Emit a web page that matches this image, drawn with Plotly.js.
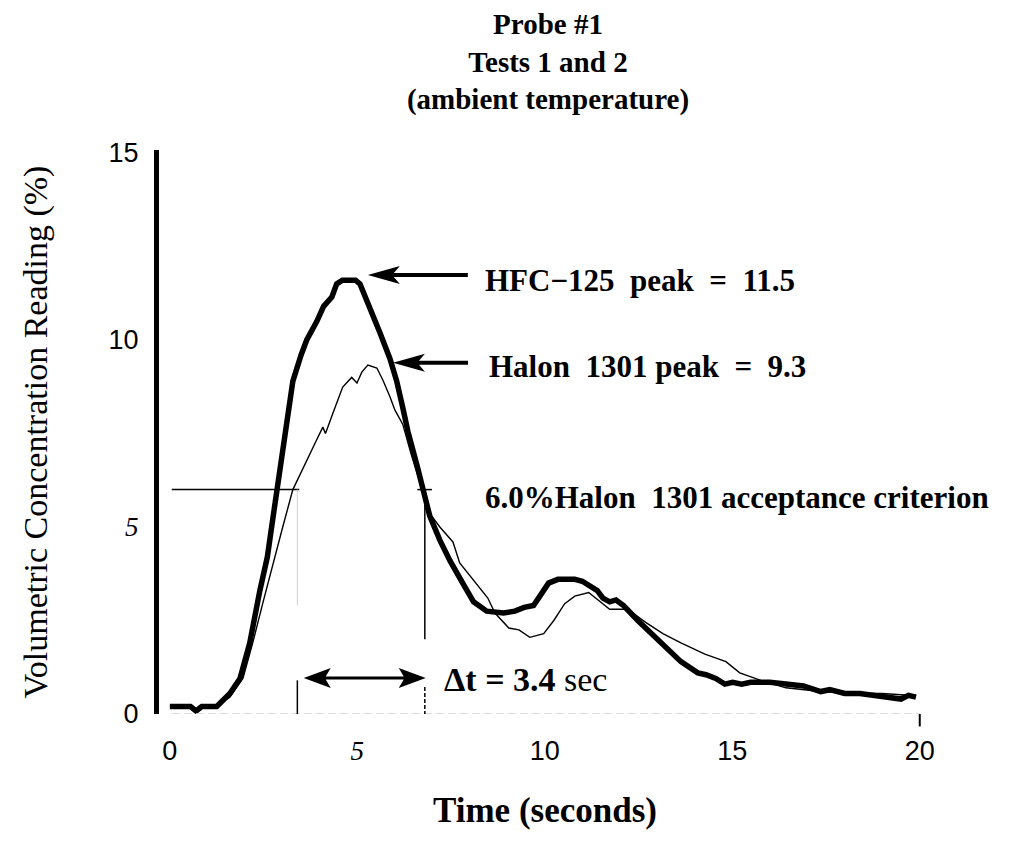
<!DOCTYPE html>
<html>
<head>
<meta charset="utf-8">
<script src="https://cdn.plot.ly/plotly-3.0.1.min.js"></script>
<style>html,body{margin:0;padding:0;background:#fff;}#chart{width:1011px;height:847px;}</style>
</head>
<body>
<div id="chart"></div>
<script>
// ---- data ----
const timeHFC = [0, 0.55, 0.7, 0.85, 1.25, 1.6, 1.87, 2.13, 2.4, 2.6, 2.75, 2.88, 3.01, 3.28, 3.5, 3.65, 3.92, 4.1, 4.32, 4.45, 4.6, 4.95, 5.07, 5.33, 5.6, 5.87, 6.05, 6.21, 6.35, 6.59, 6.75, 6.93, 7.2, 7.47, 7.81, 8.1, 8.45, 8.9, 9.2, 9.45, 9.7, 9.9, 10.1, 10.35, 10.8, 11.0, 11.17, 11.4, 11.55, 11.73, 11.9, 12.1, 12.48, 13.07, 13.63, 14.08, 14.3, 14.56, 14.8, 15.01, 15.25, 15.49, 16.0, 16.43, 16.9, 17.36, 17.6, 18.0, 18.4, 18.75, 19.1, 19.5, 19.7, 19.9];
const concHFC = [0.2, 0.2, 0.08, 0.2, 0.2, 0.55, 0.95, 1.9, 3.3, 4.2, 5.25, 6.2, 7.2, 8.9, 9.6, 10.0, 10.5, 10.9, 11.15, 11.5, 11.6, 11.6, 11.5, 10.9, 10.2, 9.5, 8.9, 8.2, 7.55, 6.65, 6.0, 5.3, 4.65, 4.1, 3.5, 3.0, 2.75, 2.7, 2.75, 2.85, 2.9, 3.2, 3.5, 3.6, 3.6, 3.55, 3.45, 3.3, 3.1, 3.0, 3.05, 2.9, 2.5, 1.95, 1.4, 1.1, 1.05, 0.95, 0.8, 0.85, 0.8, 0.85, 0.85, 0.8, 0.75, 0.6, 0.65, 0.55, 0.55, 0.5, 0.45, 0.4, 0.5, 0.45];

const timeHalon = [0, 0.5, 0.7, 0.85, 1.2, 1.6, 1.95, 2.21, 2.48, 2.75, 3.01, 3.28, 3.65, 3.9, 4.08, 4.15, 4.35, 4.61, 4.85, 4.99, 5.12, 5.28, 5.52, 5.68, 5.87, 6.0, 6.21, 6.45, 6.7, 6.88, 7.2, 7.55, 7.73, 8.0, 8.48, 8.67, 9.04, 9.31, 9.6, 9.97, 10.24, 10.53, 10.8, 11.17, 11.47, 11.73, 12.21, 12.69, 13.15, 13.63, 14.27, 14.83, 15.2, 15.76, 16.43, 17.36, 18.29, 19.0, 19.7, 19.9];
const concHalon = [0.2, 0.2, 0.1, 0.2, 0.2, 0.45, 0.96, 1.9, 2.97, 4.04, 5.0, 6.0, 6.8, 7.3, 7.67, 7.5, 8.05, 8.74, 9.0, 8.85, 9.14, 9.33, 9.25, 8.93, 8.48, 8.13, 7.75, 6.9, 6.1, 5.43, 5.0, 4.6, 4.04, 3.7, 3.1, 2.7, 2.3, 2.25, 2.05, 2.15, 2.5, 2.95, 3.15, 3.25, 3.0, 2.8, 2.8, 2.45, 2.15, 1.9, 1.6, 1.4, 1.1, 0.9, 0.7, 0.6, 0.55, 0.55, 0.5, 0.5];

const criterion = 6.0;      // % acceptance criterion
const tCrossStart = 3.4;    // s
const tCrossEnd = 6.8;      // s
const peakHFC = [5.28, 11.74];   // arrow tip (t, %)
const peakHalon = [5.95, 9.39];
const deltaArrowStart = [3.57, 0.96];
const xTickVals = [0, 5, 10, 15, 20];
const yTickVals = [0, 5, 10, 15];
const italic5 = "<span style=\"font-family:'Liberation Serif',serif;font-style:italic\">5</span>";
const xTickText = ['0', italic5, '10', '15', '20'];
const yTickText = ['0', italic5, '10', '15'];

const serif = "'Liberation Serif', 'Times New Roman', serif";
const sans = "'Liberation Sans', Arial, sans-serif";

const traces = [
  {x: timeHalon, y: concHalon, type: 'scatter', mode: 'lines', line: {color: '#000', width: 1.4}, hoverinfo: 'skip'},
  {x: timeHFC, y: concHFC, type: 'scatter', mode: 'lines', line: {color: '#000', width: 5.5}, hoverinfo: 'skip'}
];

function arrowShape(tip, path) {
  return {type: 'path', xref: 'x', yref: 'y', xsizemode: 'pixel', ysizemode: 'pixel',
          xanchor: tip[0], yanchor: tip[1], path: path, fillcolor: '#000', line: {width: 0}};
}

const shapes = [
  // faint scanned x baseline
  {type: 'line', xref: 'x', yref: 'y', x0: 0.05, x1: 20, y0: 0, y1: 0, line: {color: '#d0d0d0', width: 1.5, dash: '8px,4px'}},
  {type: 'line', xref: 'x', yref: 'y', x0: 0.05, x1: 3.45, y0: criterion, y1: criterion, line: {color: '#000', width: 1.5}},
  {type: 'line', xref: 'x', yref: 'y', x0: 6.6, x1: 6.99, y0: criterion, y1: criterion, line: {color: '#000', width: 1.5}},
  {type: 'line', xref: 'x', yref: 'y', x0: tCrossStart, x1: tCrossStart, y0: criterion, y1: 2.9, line: {color: '#cfcfcf', width: 1}},
  {type: 'line', xref: 'x', yref: 'y', x0: tCrossStart, x1: tCrossStart, y0: 0.9, y1: 0, line: {color: '#000', width: 1.5}},
  {type: 'line', xref: 'x', yref: 'y', x0: tCrossEnd, x1: tCrossEnd, y0: criterion, y1: 2.0, line: {color: '#000', width: 1.5}},
  {type: 'line', xref: 'x', yref: 'y', x0: tCrossEnd, x1: tCrossEnd, y0: 0.72, y1: 0, line: {color: '#000', width: 1.5, dash: '4px,2px'}},
  {type: 'line', xref: 'x', yref: 'paper', x0: 20, x1: 20, y0: 0, y1: -0.022, line: {color: '#000', width: 2}},
  arrowShape(peakHFC, 'M0,0 L32,9 L26,2 L100,2 L100,-2 L26,-2 L32,-9 Z'),
  arrowShape(peakHalon, 'M0,0 L32,9 L26,2 L75,2 L75,-2 L26,-2 L32,-9 Z'),
  arrowShape(deltaArrowStart, 'M0,0 L27,10 L22,1.5 L100,1.5 L95,10 L122,0 L95,-10 L100,-1.5 L22,-1.5 L27,-10 Z')
];

const annFont = {family: serif, size: 31, color: '#000'};
const annotations = [
  {x: 8.35, y: 11.6, xref: 'x', yref: 'y', xanchor: 'left', yanchor: 'middle', showarrow: false,
   text: '<b>HFC\u2212125\u00a0 peak\u00a0 =\u00a0 11.5</b>', font: annFont},
  {x: 8.45, y: 9.3, xref: 'x', yref: 'y', xanchor: 'left', yanchor: 'middle', showarrow: false,
   text: '<b>Halon\u00a0 1301 peak\u00a0 =\u00a0 9.3</b>', font: annFont},
  {x: 8.35, y: 5.8, xref: 'x', yref: 'y', xanchor: 'left', yanchor: 'middle', showarrow: false,
   text: '<b>6.0%Halon\u00a0 1301 acceptance criterion</b>', font: annFont},
  {x: 7.25, y: 0.93, xref: 'x', yref: 'y', xanchor: 'left', yanchor: 'middle', showarrow: false,
   text: '<b>\u0394t = 3.4</b> sec', font: {family: serif, size: 34, color: '#000'}}
];

const layout = {
  width: 1011, height: 847,
  margin: {l: 159, r: 80, t: 150, b: 133},
  paper_bgcolor: '#fff', plot_bgcolor: '#fff',
  showlegend: false,
  title: {
    text: '<b>Probe #1<br>Tests 1 and 2<br>(ambient temperature)</b>',
    font: {family: serif, size: 29, color: '#000'},
    x: 548 / 1011, xref: 'container', xanchor: 'center',
    y: 0.960, yref: 'container', yanchor: 'top'
  },
  xaxis: {
    range: [-0.29, 20.3], showgrid: false, zeroline: false, showline: false,
    tickmode: 'array', tickvals: xTickVals, ticktext: xTickText, ticks: '',
    ticklabelstandoff: 18,
    tickfont: {family: sans, size: 27, color: '#000'},
    title: {text: '<b>Time (seconds)</b>', font: {family: serif, size: 35, color: '#000'}, standoff: 32}
  },
  yaxis: {
    range: [0, 15.08], showgrid: false, zeroline: false,
    showline: true, linewidth: 5, linecolor: '#000',
    tickmode: 'array', tickvals: yTickVals, ticktext: yTickText, ticks: '',
    ticklabelstandoff: 10,
    tickfont: {family: sans, size: 27, color: '#000'},
    title: {text: 'Volumetric Concentration Reading (%)', font: {family: serif, size: 34, color: '#000'}, standoff: 52}
  },
  shapes: shapes,
  annotations: annotations
};

Plotly.newPlot('chart', traces, layout, {staticPlot: true, displayModeBar: false});
</script>
</body>
</html>
